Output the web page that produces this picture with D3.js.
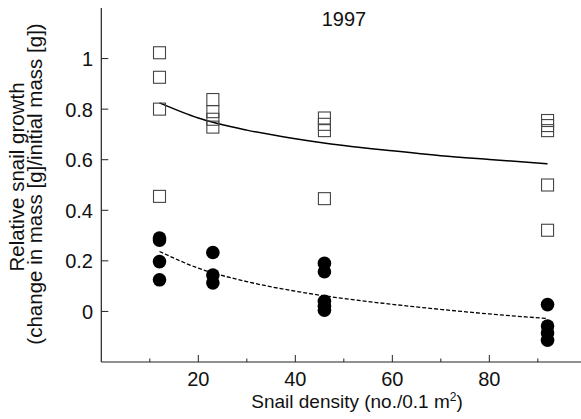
<!DOCTYPE html>
<html>
<head>
<meta charset="utf-8">
<script src="https://cdn.jsdelivr.net/npm/d3@7"></script>
<style>
  html, body { margin: 0; padding: 0; background: #fff; }
  svg { display: block; }
  text { font-family: "Liberation Sans", Arial, Helvetica, sans-serif; fill: #111; }
</style>
</head>
<body>
<svg id="chart" width="581" height="419"></svg>
<script>
// ---- Data ----
const title = "1997";
const xLabel = "Snail density (no./0.1 m";
const yLabel1 = "Relative snail growth";
const yLabel2 = "(change in mass [g]/initial mass [g])";

const xTicks = [20, 40, 60, 80];
const xMinorTicks = [10, 30, 50, 70, 90];
const yTicks = [0, 0.2, 0.4, 0.6, 0.8, 1];
const yTickLabels = ["0", "0.2", "0.4", "0.6", "0.8", "1"];

// open squares series (density, growth)
const squareDensity = [12, 12, 12, 12, 23, 23, 23, 23, 46, 46, 46, 46, 92, 92, 92, 92, 92];
const squareGrowth  = [1.023, 0.926, 0.80, 0.455, 0.838, 0.79, 0.76, 0.729, 0.765, 0.74, 0.715, 0.446, 0.755, 0.735, 0.715, 0.50, 0.321];

// filled circles series
const circleDensity = [12, 12, 12, 12, 23, 23, 23, 46, 46, 46, 46, 46, 92, 92, 92, 92];
const circleGrowth  = [0.29, 0.282, 0.197, 0.125, 0.233, 0.144, 0.113, 0.19, 0.157, 0.04, 0.02, 0.005, 0.027, -0.058, -0.085, -0.114];

// fitted curves
const fitDensity = [12, 20, 30, 40, 50, 60, 70, 80, 92];
const squareFit  = [0.825, 0.765, 0.717, 0.683, 0.656, 0.635, 0.616, 0.601, 0.584];
const circleFit  = [0.237, 0.171, 0.118, 0.080, 0.051, 0.028, 0.008, -0.010, -0.028];

// ---- Drawing ----
const svg = d3.select("#chart");
const x = d3.scaleLinear().domain([0, 99]).range([101.3, 581.5]);
const y = d3.scaleLinear().domain([-0.2, 1.2]).range([362, 8]);

// axes lines
const axisColor = "#222";
svg.append("line").attr("x1", x(0)).attr("x2", x(99)).attr("y1", y(-0.2)).attr("y2", y(-0.2))
  .attr("stroke", axisColor).attr("stroke-width", 1.2);
svg.append("line").attr("x1", x(0)).attr("x2", x(0)).attr("y1", y(-0.2)).attr("y2", y(1.2))
  .attr("stroke", axisColor).attr("stroke-width", 1.2);

// x axis ticks (inward)
const gx = svg.append("g");
gx.selectAll("line.maj").data(xTicks).enter().append("line")
  .attr("x1", d => x(d)).attr("x2", d => x(d))
  .attr("y1", y(-0.2)).attr("y2", y(-0.2) - 7)
  .attr("stroke", axisColor).attr("stroke-width", 1);
gx.selectAll("line.min").data(xMinorTicks).enter().append("line")
  .attr("x1", d => x(d)).attr("x2", d => x(d))
  .attr("y1", y(-0.2)).attr("y2", y(-0.2) - 3.5)
  .attr("stroke", axisColor).attr("stroke-width", 1);
gx.selectAll("text").data(xTicks).enter().append("text")
  .attr("x", d => x(d)).attr("y", 386)
  .attr("text-anchor", "middle").attr("font-size", 20)
  .text(d => d);

// y axis ticks (inward)
const gy = svg.append("g");
gy.selectAll("line").data(yTicks).enter().append("line")
  .attr("x1", x(0)).attr("x2", x(0) + 7)
  .attr("y1", d => y(d)).attr("y2", d => y(d))
  .attr("stroke", axisColor).attr("stroke-width", 1);
gy.selectAll("text").data(yTicks).enter().append("text")
  .attr("x", 93).attr("y", d => y(d) + 7.5)
  .attr("text-anchor", "end").attr("font-size", 20)
  .text((d, i) => yTickLabels[i]);

// title
svg.append("text").attr("x", 344).attr("y", 26).attr("text-anchor", "middle")
  .attr("font-size", 20).text(title);

// x label
const xl = svg.append("text").attr("x", 357).attr("y", 408).attr("text-anchor", "middle")
  .attr("font-size", 19);
xl.append("tspan").text(xLabel);
xl.append("tspan").attr("font-size", 12).attr("dy", -7).text("2");
xl.append("tspan").attr("dy", 7).text(")");

// y label (two lines)
svg.append("text").attr("transform", "translate(24,177) rotate(-90)")
  .attr("text-anchor", "middle").attr("font-size", 20.5).text(yLabel1);
svg.append("text").attr("transform", "translate(42,184) rotate(-90)")
  .attr("text-anchor", "middle").attr("font-size", 20.5).text(yLabel2);

// fit curves
const line = d3.line().curve(d3.curveMonotoneX);
svg.append("path")
  .attr("d", line(fitDensity.map((d, i) => [x(d), y(squareFit[i])])))
  .attr("fill", "none").attr("stroke", "#000").attr("stroke-width", 1.5);
svg.append("path")
  .attr("d", line(fitDensity.map((d, i) => [x(d), y(circleFit[i])])))
  .attr("fill", "none").attr("stroke", "#000").attr("stroke-width", 1.3)
  .attr("stroke-dasharray", "4,2");

// squares
const sq = 12;
svg.append("g").selectAll("rect").data(squareDensity).enter().append("rect")
  .attr("x", d => x(d) - sq / 2).attr("y", (d, i) => y(squareGrowth[i]) - sq / 2)
  .attr("width", sq).attr("height", sq)
  .attr("fill", "none").attr("stroke", "#444").attr("stroke-width", 1.1);

// circles
svg.append("g").selectAll("circle").data(circleDensity).enter().append("circle")
  .attr("cx", d => x(d)).attr("cy", (d, i) => y(circleGrowth[i]))
  .attr("r", 6.8).attr("fill", "#000");
</script>
</body>
</html>
